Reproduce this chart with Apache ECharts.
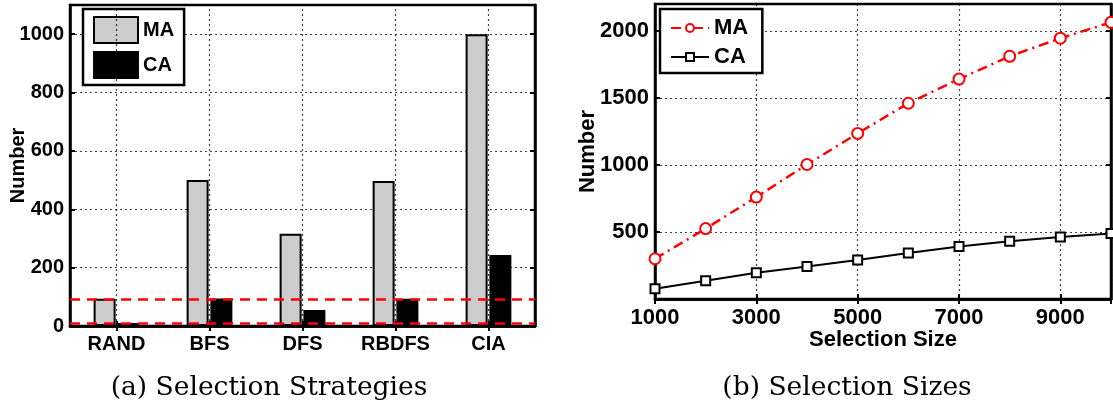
<!DOCTYPE html>
<html>
<head>
<meta charset="utf-8">
<script src="https://cdn.jsdelivr.net/npm/echarts@6/dist/echarts.min.js"></script>
<style>
  html, body { margin: 0; padding: 0; background: #fff; }
  #chart { width: 1113px; height: 409px; }
</style>
</head>
<body>
<div id="chart"></div>
<script>
// (a) number of selected items per selection strategy
const strategies = ['RAND', 'BFS', 'DFS', 'RBDFS', 'CIA'];
const maByStrategy = [93, 500, 316, 497, 1000];
const caByStrategy = [10, 94, 55, 93, 243];
const randLevels = [93, 10];

// (b) number of selected items per selection size
const selectionSizes = [1000, 2000, 3000, 4000, 5000, 6000, 7000, 8000, 9000, 10000];
const maBySize = [300, 525, 760, 1003, 1235, 1460, 1640, 1810, 1945, 2063];
const caBySize = [77, 136, 195, 242, 291, 343, 392, 431, 463, 488];

const captions = ['(a) Selection Strategies', '(b) Selection Sizes'];

const SANS = '"Liberation Sans", Arial, sans-serif';
const SERIF = '"DejaVu Serif", "Liberation Serif", serif';
const gridLine = { color: '#000', width: 1.2, type: [2, 3], opacity: 0.75 };
const frame = { show: true, lineStyle: { color: '#000', width: 2.5 } };
const inTick = { show: true, inside: true, length: 5, lineStyle: { color: '#000', width: 2 } };
const plain = v => String(v);

const chart = echarts.init(document.getElementById('chart'), null, { renderer: 'canvas' });

chart.setOption({
  animation: false,
  backgroundColor: '#fff',
  grid: [
    { left: 70, top: 5, width: 465, height: 321, outerBoundsMode: 'none', containLabel: false,
      show: true, borderColor: '#000', borderWidth: 2.5 },
    { left: 655, top: 4, width: 456, height: 295, outerBoundsMode: 'none', containLabel: false,
      show: true, borderColor: '#000', borderWidth: 2.5 }
  ],
  legend: [
    {
      left: 83, top: 9, orient: 'vertical',
      itemWidth: 44, itemHeight: 26, itemGap: 7,
      padding: [7, 10, 6, 10],
      borderColor: '#000', borderWidth: 2.5, backgroundColor: '#fff',
      textStyle: { fontFamily: SANS, fontWeight: 'bold', fontSize: 20, color: '#000' },
      data: [{ name: 'MA', icon: 'rect' }, { name: 'CA', icon: 'rect' }],
      selectedMode: false
    },
    {
      left: 660, top: 9, orient: 'vertical',
      itemWidth: 38, itemHeight: 10, itemGap: 7,
      padding: [8, 8, 5, 10],
      borderColor: '#000', borderWidth: 2.5, backgroundColor: '#fff',
      textStyle: { fontFamily: SANS, fontWeight: 'bold', fontSize: 22, lineHeight: 22, color: '#000' },
      data: ['MA ', 'CA '],
      selectedMode: false
    }
  ],
  xAxis: [
    {
      type: 'category', gridIndex: 0, data: strategies, position: 'bottom',
      axisLine: frame,
      axisTick: Object.assign({ alignWithLabel: true }, inTick),
      axisLabel: { margin: 8, fontFamily: SANS, fontWeight: 'bold', fontSize: 20, color: '#000' },
      splitLine: { show: false }
    },
    {
      type: 'category', gridIndex: 0, data: strategies, position: 'top',
      axisLine: frame,
      axisTick: Object.assign({ alignWithLabel: true }, inTick),
      axisLabel: { show: false }, splitLine: { show: false }
    },
    {
      type: 'value', gridIndex: 1, min: 1000, max: 10000, interval: 2000, position: 'bottom',
      name: 'Selection Size', nameLocation: 'middle', nameGap: 30, nameMoveOverlap: false,
      nameTextStyle: { fontFamily: SANS, fontWeight: 'bold', fontSize: 22, color: '#000' },
      axisLine: frame, axisTick: inTick,
      axisLabel: { margin: 8, showMaxLabel: false, formatter: plain,
                   fontFamily: SANS, fontWeight: 'bold', fontSize: 22, color: '#000' },
      splitLine: { show: true, lineStyle: gridLine }
    },
    {
      type: 'value', gridIndex: 1, min: 1000, max: 10000, interval: 2000, position: 'top',
      axisLine: frame, axisTick: inTick,
      axisLabel: { show: false }, splitLine: { show: false }
    }
  ],
  yAxis: [
    {
      type: 'value', gridIndex: 0, min: 0, max: 1100, interval: 200, position: 'left',
      name: 'Number', nameLocation: 'middle', nameGap: 42, nameMoveOverlap: false,
      nameTextStyle: { fontFamily: SANS, fontWeight: 'bold', fontSize: 20, color: '#000' },
      axisLine: frame, axisTick: inTick,
      axisLabel: { margin: 6, showMaxLabel: false, formatter: plain,
                   fontFamily: SANS, fontWeight: 'bold', fontSize: 20, color: '#000' },
      splitLine: { show: true, lineStyle: gridLine }
    },
    {
      type: 'value', gridIndex: 0, min: 0, max: 1100, interval: 200, position: 'right',
      axisLine: frame, axisTick: inTick,
      axisLabel: { show: false }, splitLine: { show: false }
    },
    {
      type: 'value', gridIndex: 1, min: 0, max: 2200, interval: 500, position: 'left',
      name: 'Number', nameLocation: 'middle', nameGap: 56, nameMoveOverlap: false,
      nameTextStyle: { fontFamily: SANS, fontWeight: 'bold', fontSize: 22, color: '#000' },
      axisLine: frame, axisTick: inTick,
      axisLabel: { margin: 6, showMinLabel: false, showMaxLabel: false, formatter: plain,
                   fontFamily: SANS, fontWeight: 'bold', fontSize: 22, color: '#000' },
      splitLine: { show: true, lineStyle: gridLine }
    },
    {
      type: 'value', gridIndex: 1, min: 0, max: 2200, interval: 500, position: 'right',
      axisLine: frame, axisTick: inTick,
      axisLabel: { show: false }, splitLine: { show: false }
    }
  ],
  series: [
    {
      // carries the dotted vertical grid through each strategy's centre
      name: 'strategy grid', type: 'line', xAxisIndex: 0, yAxisIndex: 0,
      data: [], silent: true, z: 1,
      markLine: {
        silent: true, symbol: 'none',
        label: { show: false },
        lineStyle: gridLine,
        data: strategies.map(c => ({ xAxis: c }))
      }
    },
    {
      name: 'MA', type: 'bar', xAxisIndex: 0, yAxisIndex: 0,
      data: maByStrategy, barWidth: 22, barGap: '8%',
      itemStyle: { color: '#cccccc', borderColor: '#000', borderWidth: 2 }
    },
    {
      name: 'CA', type: 'bar', xAxisIndex: 0, yAxisIndex: 0,
      data: caByStrategy, barWidth: 22, barGap: '8%',
      itemStyle: { color: '#000', borderColor: '#000', borderWidth: 2 },
      // RAND reference levels
      markLine: {
        silent: true, symbol: 'none', z: 10,
        label: { show: false },
        lineStyle: { color: '#ff0000', width: 2.5, type: [10, 7] },
        data: randLevels.map(v => ({ yAxis: v }))
      }
    },
    {
      name: 'MA ', type: 'line', xAxisIndex: 2, yAxisIndex: 2,
      data: selectionSizes.map((s, i) => [s, maBySize[i]]),
      symbol: 'emptyCircle', symbolSize: 11,
      lineStyle: { color: '#ff0000', width: 2.5, type: [10, 5, 2, 5] },
      itemStyle: { color: '#ff0000', borderWidth: 2.5 }
    },
    {
      name: 'CA ', type: 'line', xAxisIndex: 2, yAxisIndex: 2,
      data: selectionSizes.map((s, i) => [s, caBySize[i]]),
      symbol: 'emptyRect', symbolSize: 9,
      lineStyle: { color: '#000', width: 2 },
      itemStyle: { color: '#000', borderWidth: 2 }
    }
  ],
  graphic: [
    { type: 'text', x: 269, y: 388, style: { text: captions[0], textAlign: 'center', textVerticalAlign: 'middle', font: '26.5px ' + SERIF, fill: '#000' } },
    { type: 'text', x: 847, y: 388, style: { text: captions[1], textAlign: 'center', textVerticalAlign: 'middle', font: '26.5px ' + SERIF, fill: '#000' } }
  ]
});
</script>
</body>
</html>
